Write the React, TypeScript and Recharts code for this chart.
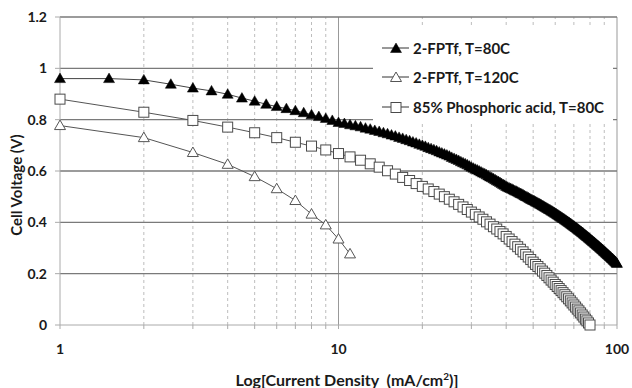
import { Legend, Line, LineChart, ReferenceLine, XAxis, YAxis } from "recharts";

const FONT = "Lato, 'Open Sans', sans-serif";

// 2-FPTf, T=80C (filled triangles)
const current80 = [
  1, 1.5, 2, 2.5, 3, 3.5, 4, 4.5, 5, 5.5, 6, 6.5, 7, 7.5, 8, 8.5, 9, 9.5, 10,
  10.5, 11, 11.5, 12, 12.5, 13, 13.5, 14, 14.5, 15, 15.5, 16, 16.5, 17, 17.5, 18, 18.5, 19, 19.5, 20,
  20.5, 21, 21.5, 22, 22.5, 23, 23.5, 24, 24.5, 25, 25.5, 26, 26.5, 27, 27.5, 28, 28.5, 29, 29.5, 30,
  30.5, 31, 31.5, 32, 32.5, 33, 33.5, 34, 34.5, 35, 35.5, 36, 36.5, 37, 37.5, 38, 38.5, 39, 39.5, 40,
  40.5, 41, 41.5, 42, 42.5, 43, 43.5, 44, 44.5, 45, 45.5, 46, 46.5, 47, 47.5, 48, 48.5, 49, 49.5, 50,
  50.5, 51, 51.5, 52, 52.5, 53, 53.5, 54, 54.5, 55, 55.5, 56, 56.5, 57, 57.5, 58, 58.5, 59, 59.5, 60,
  60.5, 61, 61.5, 62, 62.5, 63, 63.5, 64, 64.5, 65, 65.5, 66, 66.5, 67, 67.5, 68, 68.5, 69, 69.5, 70,
  70.5, 71, 71.5, 72, 72.5, 73, 73.5, 74, 74.5, 75, 75.5, 76, 76.5, 77, 77.5, 78, 78.5, 79, 79.5, 80,
  80.5, 81, 81.5, 82, 82.5, 83, 83.5, 84, 84.5, 85, 85.5, 86, 86.5, 87, 87.5, 88, 88.5, 89, 89.5, 90,
  90.5, 91, 91.5, 92, 92.5, 93, 93.5, 94, 94.5, 95, 95.5, 96, 96.5, 97, 97.5, 98, 98.5, 99, 99.5, 100,
];
const voltage80 = [
  0.960, 0.960, 0.955, 0.938, 0.923, 0.912, 0.899, 0.884, 0.872, 0.860, 0.851, 0.843, 0.835, 0.827, 0.819, 0.812, 0.805, 0.797, 0.789,
  0.785, 0.780, 0.776, 0.772, 0.767, 0.763, 0.758, 0.754, 0.749, 0.745, 0.740, 0.736, 0.731, 0.727, 0.722, 0.718, 0.713, 0.709, 0.704, 0.700,
  0.696, 0.691, 0.687, 0.683, 0.679, 0.674, 0.670, 0.666, 0.662, 0.658, 0.653, 0.649, 0.645, 0.641, 0.636, 0.632, 0.628, 0.624, 0.619, 0.615,
  0.611, 0.607, 0.604, 0.600, 0.596, 0.592, 0.589, 0.585, 0.581, 0.577, 0.574, 0.570, 0.566, 0.562, 0.559, 0.555, 0.551, 0.547, 0.544, 0.540,
  0.537, 0.534, 0.532, 0.529, 0.526, 0.523, 0.521, 0.518, 0.515, 0.512, 0.510, 0.507, 0.504, 0.501, 0.499, 0.496, 0.493, 0.490, 0.488, 0.485,
  0.483, 0.480, 0.478, 0.475, 0.473, 0.470, 0.468, 0.465, 0.463, 0.460, 0.458, 0.455, 0.453, 0.450, 0.448, 0.445, 0.443, 0.440, 0.438, 0.435,
  0.433, 0.430, 0.428, 0.425, 0.423, 0.420, 0.418, 0.415, 0.413, 0.410, 0.408, 0.405, 0.403, 0.400, 0.398, 0.395, 0.393, 0.390, 0.388, 0.385,
  0.383, 0.380, 0.378, 0.375, 0.373, 0.370, 0.368, 0.365, 0.363, 0.360, 0.358, 0.355, 0.353, 0.350, 0.348, 0.345, 0.343, 0.340, 0.338, 0.335,
  0.333, 0.330, 0.328, 0.325, 0.323, 0.321, 0.318, 0.316, 0.313, 0.311, 0.309, 0.306, 0.304, 0.301, 0.299, 0.297, 0.294, 0.292, 0.289, 0.287,
  0.285, 0.282, 0.280, 0.278, 0.275, 0.273, 0.271, 0.268, 0.266, 0.264, 0.261, 0.259, 0.257, 0.254, 0.252, 0.250, 0.247, 0.245, 0.242, 0.240,
];

// 2-FPTf, T=120C (open triangles)
const current120 = [1, 2, 3, 4, 5, 6, 7, 8, 9, 10, 11];
const voltage120 = [0.777, 0.730, 0.672, 0.626, 0.578, 0.531, 0.485, 0.432, 0.390, 0.335, 0.277];

// 85% Phosphoric acid, T=80C (open squares)
const currentAcid = [
  1, 2, 3, 4, 5, 6, 7, 8, 9, 10, 11, 12, 13, 14, 15, 16, 17, 18, 19, 20,
  21, 22, 23, 24, 25, 26, 27, 28, 29, 30, 31, 32, 33, 34, 35, 36, 37, 38, 39, 40,
  41, 42, 43, 44, 45, 46, 47, 48, 49, 50, 51, 52, 53, 54, 55, 56, 57, 58, 59, 60,
  61, 62, 63, 64, 65, 66, 67, 68, 69, 70, 71, 72, 73, 74, 75, 76, 77, 78, 79, 80,
];
const voltageAcid = [
  0.880, 0.829, 0.797, 0.771, 0.749, 0.730, 0.712, 0.697, 0.682, 0.668,
  0.655, 0.642, 0.628, 0.615, 0.601, 0.588, 0.575, 0.563, 0.551, 0.540,
  0.530, 0.520, 0.510, 0.500, 0.490, 0.480, 0.470, 0.460, 0.450, 0.440,
  0.431, 0.421, 0.412, 0.402, 0.393, 0.383, 0.374, 0.364, 0.355, 0.345,
  0.335, 0.325, 0.315, 0.305, 0.295, 0.285, 0.275, 0.265, 0.255, 0.245,
  0.236, 0.228, 0.219, 0.210, 0.202, 0.193, 0.184, 0.175, 0.167, 0.158,
  0.150, 0.142, 0.134, 0.126, 0.118, 0.110, 0.102, 0.094, 0.086, 0.078,
  0.070, 0.062, 0.055, 0.047, 0.039, 0.031, 0.023, 0.016, 0.008, 0.000,
];

const xTicks = [1, 2, 3, 4, 5, 6, 7, 8, 9, 10, 20, 30, 40, 50, 60, 70, 80, 90, 100];
const xLabels = [1, 10, 100];
const minorGrid = [2, 3, 4, 5, 6, 7, 8, 9, 20, 30, 40, 50, 60, 70, 80, 90];
const yTicks = [0, 0.2, 0.4, 0.6, 0.8, 1.0, 1.2];
const yGrid = [0.2, 0.4, 0.6, 0.8, 1.0, 1.2];

const legendItems = [
  { name: "2-FPTf, T=80C", shape: "filled" },
  { name: "2-FPTf, T=120C", shape: "open" },
  { name: "85% Phosphoric acid, T=80C", shape: "square" },
];

const toRows = (xs: number[], ys: number[]) => xs.map((x, i) => ({ x, v: ys[i] }));

function Marker({ cx, cy, shape }: { cx: number; cy: number; shape: string }) {
  if (shape === "square") {
    return <rect x={cx - 5} y={cy - 5} width={10} height={10} fill="#fff" stroke="#4a4a4a" strokeWidth={1} />;
  }
  const pts = `${cx},${cy - 5.5} ${cx + 5.5},${cy + 4} ${cx - 5.5},${cy + 4}`;
  if (shape === "filled") return <polygon points={pts} fill="#000" stroke="#000" strokeWidth={0.5} />;
  return <polygon points={pts} fill="#fff" stroke="#555" strokeWidth={1} />;
}

const dotFor = (shape: string) => (p: any) => (
  <Marker key={`${shape}-${p.index}`} cx={p.cx} cy={p.cy} shape={shape} />
);

function LegendBox() {
  return (
    <div style={{ background: "#fff", width: 240, height: 95, paddingTop: 6, boxSizing: "border-box" }}>
      {legendItems.map((it) => (
        <div key={it.name} style={{ display: "flex", alignItems: "center", height: 29.5 }}>
          <svg width={40} height={14}>
            <line x1={9} x2={36} y1={7} y2={7} stroke="#333" strokeWidth={1} />
            <Marker cx={23} cy={7.5} shape={it.shape} />
          </svg>
          <span style={{ fontFamily: FONT, fontWeight: 700, fontSize: 15, color: "#1a1a1a", whiteSpace: "nowrap" }}>
            {it.name}
          </span>
        </div>
      ))}
    </div>
  );
}

export default function App() {
  const tickStyle = { fontFamily: FONT, fontWeight: 700, fontSize: 14, fill: "#1a1a1a" };
  return (
    <div style={{ position: "absolute", left: 0, top: 0 }}>
      <LineChart width={632} height={388} margin={{ top: 17, right: 15, bottom: 23, left: 15 }}>
        <XAxis
          dataKey="x"
          type="number"
          scale="log"
          domain={[1, 100]}
          ticks={xTicks}
          interval={0}
          allowDuplicatedCategory={false}
          tickFormatter={(v) => (xLabels.includes(v) ? String(v) : "")}
          tick={tickStyle}
          tickSize={4}
          tickMargin={15}
          height={40}
          axisLine={{ stroke: "#aaa" }}
          tickLine={{ stroke: "#aaa" }}
          label={() => (
            <text x={347} y={386} textAnchor="middle" xmlSpace="preserve" style={{ fontFamily: FONT, fontWeight: 700, fontSize: 16 }} fill="#1a1a1a">
              Log[Current Density  (mA/cm<tspan dy={-6} fontSize={10}>2</tspan><tspan dy={6}>)]</tspan>
            </text>
          )}
        />
        <YAxis
          type="number"
          domain={[0, 1.2]}
          ticks={yTicks}
          interval={0}
          tickFormatter={(v) => String(Math.round(v * 10) / 10)}
          tick={tickStyle}
          tickSize={5}
          tickMargin={8}
          width={45}
          axisLine={{ stroke: "#aaa" }}
          tickLine={{ stroke: "#aaa" }}
          label={() => (
            <text x={16} y={185} transform="rotate(-90, 16, 185)" textAnchor="middle" dominantBaseline="central" style={{ fontFamily: FONT, fontWeight: 700, fontSize: 15 }} fill="#1a1a1a">
              Cell Voltage (V)
            </text>
          )}
        />
        {minorGrid.map((g) => (
          <ReferenceLine key={`v${g}`} x={g} stroke="#bdbdbd" strokeDasharray="3 3" />
        ))}
        <ReferenceLine x={10} stroke="#999" />
        <ReferenceLine x={100} stroke="#999" />
        {yGrid.map((g) => (
          <ReferenceLine key={`h${g}`} y={g} stroke="#7a7a7a" strokeWidth={1.4} />
        ))}
        <Legend
          layout="vertical"
          align="center"
          verticalAlign="middle"
          content={() => <LegendBox />}
          wrapperStyle={{ left: 373, top: 27, width: 240, height: 95 }}
        />
        <Line
          data={toRows(currentAcid, voltageAcid)}
          dataKey="v"
          name="85% Phosphoric acid, T=80C"
          stroke="#555"
          strokeWidth={1}
          dot={dotFor("square")}
          isAnimationActive={false}
        />
        <Line
          data={toRows(current120, voltage120)}
          dataKey="v"
          name="2-FPTf, T=120C"
          stroke="#555"
          strokeWidth={1}
          dot={dotFor("open")}
          isAnimationActive={false}
        />
        <Line
          data={toRows(current80, voltage80)}
          dataKey="v"
          name="2-FPTf, T=80C"
          stroke="#444"
          strokeWidth={1}
          dot={dotFor("filled")}
          isAnimationActive={false}
        />
      </LineChart>
    </div>
  );
}
